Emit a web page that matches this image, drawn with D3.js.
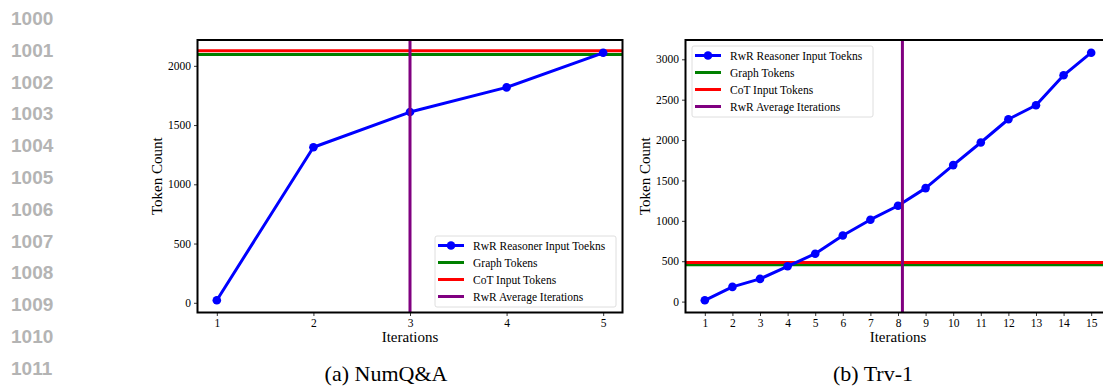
<!DOCTYPE html>
<html>
<head>
<meta charset="utf-8">
<script src="https://cdn.jsdelivr.net/npm/d3@7"></script>
<style>
  body { margin: 0; background: #fff; }
  svg { display: block; }
</style>
</head>
<body>
<div id="vis"></div>
<script>
// ---- data ----
const LINE_NUMBERS = ["1000", "1001", "1002", "1003", "1004", "1005",
                      "1006", "1007", "1008", "1009", "1010", "1011"];

const NUMQA_ITERS = [1, 2, 3, 4, 5];
const NUMQA_TOKENS = [22, 1313, 1610, 1818, 2110];
const NUMQA_GRAPH = 2095;
const NUMQA_COT = 2128;
const NUMQA_AVG_ITER = 3.0;

const TRV_ITERS = [1, 2, 3, 4, 5, 6, 7, 8, 9, 10, 11, 12, 13, 14, 15];
const TRV_TOKENS = [16, 182, 281, 437, 593, 818, 1014, 1187, 1405, 1690,
                    1970, 2258, 2431, 2802, 3082];
const TRV_GRAPH = 455;
const TRV_COT = 483;
const TRV_AVG_ITER = 8.16;

const LEGEND_LABELS = ["RwR Reasoner Input Toekns", "Graph Tokens",
                       "CoT Input Tokens", "RwR Average Iterations"];
const COLORS = ["#0000ff", "#008000", "#ff0000", "#800080"];

const FRAME_WIDTH = 1103;
const FRAME_HEIGHT = 389;
const SERIF = '"Liberation Serif", "Times New Roman", serif';

const SVG = d3.select("#vis")
              .append("svg")
                .attr("width", FRAME_WIDTH)
                .attr("height", FRAME_HEIGHT)
                .attr("font-family", SERIF);

// gray line numbers down the left margin
SVG.selectAll(".lineno")
   .data(LINE_NUMBERS)
   .enter()
   .append("text")
     .attr("x", 11)
     .attr("y", (d, i) => 25 + i * 31.8)
     .attr("font-family", '"Liberation Sans", Arial, sans-serif')
     .attr("font-weight", "bold")
     .attr("font-size", "19px")
     .attr("fill", "#b4b4b4")
     .text((d) => d);

function drawPanel(p) {
  const X_SCALE = d3.scaleLinear().domain(p.xDomain).range([p.left, p.left + p.width]);
  const Y_SCALE = d3.scaleLinear().domain(p.yDomain).range([p.top + p.height, p.top]);

  const clipId = "clip-" + p.id;
  SVG.append("clipPath").attr("id", clipId)
     .append("rect")
       .attr("x", p.left).attr("y", p.top)
       .attr("width", p.width).attr("height", p.height);

  const plot = SVG.append("g").attr("clip-path", "url(#" + clipId + ")");

  // horizontal reference lines
  plot.append("line")
      .attr("x1", p.left).attr("x2", p.left + p.width)
      .attr("y1", Y_SCALE(p.graph)).attr("y2", Y_SCALE(p.graph))
      .attr("stroke", COLORS[1]).attr("stroke-width", 3);
  plot.append("line")
      .attr("x1", p.left).attr("x2", p.left + p.width)
      .attr("y1", Y_SCALE(p.cot)).attr("y2", Y_SCALE(p.cot))
      .attr("stroke", COLORS[2]).attr("stroke-width", 3);

  // main series
  const line = d3.line()
                 .x((d, i) => X_SCALE(p.iters[i]))
                 .y((d) => Y_SCALE(d));
  plot.append("path")
      .datum(p.tokens)
      .attr("d", line)
      .attr("fill", "none")
      .attr("stroke", COLORS[0])
      .attr("stroke-width", 3)
      .attr("stroke-linejoin", "round");
  plot.selectAll(".pt")
      .data(p.tokens)
      .enter()
      .append("circle")
        .attr("cx", (d, i) => X_SCALE(p.iters[i]))
        .attr("cy", (d) => Y_SCALE(d))
        .attr("r", 4.3)
        .attr("fill", COLORS[0]);

  // average iterations
  plot.append("line")
      .attr("x1", X_SCALE(p.avg)).attr("x2", X_SCALE(p.avg))
      .attr("y1", p.top).attr("y2", p.top + p.height)
      .attr("stroke", COLORS[3]).attr("stroke-width", 3);

  // axes
  const xAxis = SVG.append("g")
     .attr("transform", "translate(0," + (p.top + p.height) + ")")
     .call(d3.axisBottom(X_SCALE).tickValues(p.iters).tickSize(3.5).tickPadding(3).tickFormat(d3.format("d")));
  const yAxis = SVG.append("g")
     .attr("transform", "translate(" + p.left + ",0)")
     .call(d3.axisLeft(Y_SCALE).tickValues(p.yTicks).tickSize(3.5).tickPadding(3).tickFormat(d3.format("d")));
  [xAxis, yAxis].forEach((ax) => {
    ax.attr("font-family", SERIF).attr("font-size", "11.5px");
    ax.select(".domain").remove();
    ax.selectAll(".tick line").attr("stroke", "#000").attr("stroke-width", 0.8);
    ax.selectAll(".tick text").attr("fill", "#000");
  });

  // frame
  SVG.append("rect")
     .attr("x", p.left).attr("y", p.top)
     .attr("width", p.width).attr("height", p.height)
     .attr("fill", "none").attr("stroke", "#000").attr("stroke-width", 2);

  // axis labels
  SVG.append("text")
     .attr("x", p.left + p.width * p.xLabelFrac).attr("y", 342)
     .attr("text-anchor", "middle")
     .attr("font-size", "15px")
     .text("Iterations");
  SVG.append("text")
     .attr("transform", "translate(" + p.yLabelX + "," + (p.top + p.height / 2) + ") rotate(-90)")
     .attr("text-anchor", "middle")
     .attr("font-size", "15px")
     .text("Token Count");

  // legend
  const lg = SVG.append("g").attr("transform", "translate(" + p.legX + "," + p.legY + ")");
  lg.append("rect")
    .attr("x", 0).attr("y", 0).attr("width", 181).attr("height", 71)
    .attr("rx", 2).attr("fill", "#fff").attr("fill-opacity", 0.8)
    .attr("stroke", "#d6d6d6").attr("stroke-width", 0.8);
  LEGEND_LABELS.forEach((lab, i) => {
    const y = 9.5 + i * 17;
    lg.append("line")
      .attr("x1", 3).attr("x2", 29).attr("y1", y).attr("y2", y)
      .attr("stroke", COLORS[i]).attr("stroke-width", 3);
    if (i === 0) {
      lg.append("circle").attr("cx", 16).attr("cy", y).attr("r", 4.3).attr("fill", COLORS[0]);
    }
    lg.append("text")
      .attr("x", 38).attr("y", y + 4)
      .attr("font-size", "11.5px")
      .text(lab);
  });

  // caption
  SVG.append("text")
     .attr("x", p.capX).attr("y", 381)
     .attr("text-anchor", "middle")
     .attr("font-size", "22px")
     .text(p.caption);
}

drawPanel({
  id: "a", left: 197.5, top: 40, width: 425, height: 272.5,
  xDomain: [0.8, 5.2], yDomain: [-82, 2218],
  iters: NUMQA_ITERS, tokens: NUMQA_TOKENS,
  graph: NUMQA_GRAPH, cot: NUMQA_COT, avg: NUMQA_AVG_ITER,
  yTicks: [0, 500, 1000, 1500, 2000],
  xLabelFrac: 0.5, yLabelX: 162,
  legX: 435, legY: 236, caption: "(a) NumQ&A", capX: 386
});

drawPanel({
  id: "b", left: 685.5, top: 40, width: 425, height: 272.5,
  xDomain: [0.3, 15.7], yDomain: [-135, 3239],
  iters: TRV_ITERS, tokens: TRV_TOKENS,
  graph: TRV_GRAPH, cot: TRV_COT, avg: TRV_AVG_ITER,
  yTicks: [0, 500, 1000, 1500, 2000, 2500, 3000],
  xLabelFrac: 0.5, yLabelX: 650,
  legX: 692, legY: 46, caption: "(b) Trv-1", capX: 873
});
</script>
</body>
</html>
